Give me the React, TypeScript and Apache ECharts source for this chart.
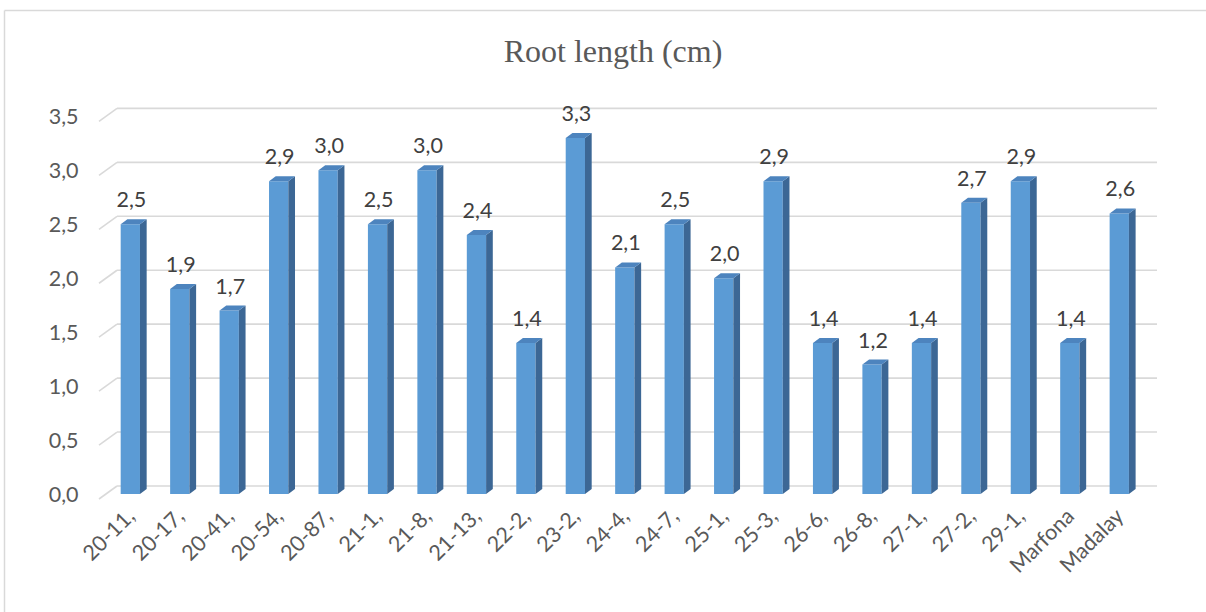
import React, { useEffect, useRef } from "react";
import * as echarts from "echarts";

const categories = ["20-11,", "20-17,", "20-41,", "20-54,", "20-87,", "21-1,", "21-8,", "21-13,", "22-2,", "23-2,", "24-4,", "24-7,", "25-1,", "25-3,", "26-6,", "26-8,", "27-1,", "27-2,", "29-1,", "Marfona", "Madalay"];
const rootLength = [2.5, 1.9, 1.7, 2.9, 3.0, 2.5, 3.0, 2.4, 1.4, 3.3, 2.1, 2.5, 2.0, 2.9, 1.4, 1.2, 1.4, 2.7, 2.9, 1.4, 2.6];
const yTicks = [0, 0.5, 1.0, 1.5, 2.0, 2.5, 3.0, 3.5];
const titleText = "Root length (cm)";

const fmt = (v: number) => v.toFixed(1).replace(".", ",");
const FONT = "Lato, 'Open Sans', sans-serif";

export default function App() {
  const ref = useRef<HTMLDivElement>(null);
  useEffect(() => {
    if (!ref.current) return;
    const chart = echarts.init(ref.current, null, { renderer: "svg" });
    const DX = 6.7;
    const DY = 5;
    chart.setOption({
      animation: false,
      backgroundColor: "#ffffff",
      title: {
        text: titleText,
        left: 608,
        textAlign: "center",
        top: 30,
        textStyle: { fontFamily: "'Liberation Serif', 'Times New Roman', serif", fontSize: 32, fontWeight: "normal", color: "#595959" },
      },
      graphic: [
        { type: "line", shape: { x1: 4.5, y1: 10.5, x2: 1206, y2: 10.5 }, style: { stroke: "#d9d9d9", lineWidth: 1.5 } },
        { type: "line", shape: { x1: 4.5, y1: 10.5, x2: 4.5, y2: 612 }, style: { stroke: "#d9d9d9", lineWidth: 1.5 } },
      ],
      grid: { left: 105.6, right: 62, top: 116.4, height: 377.6 },
      xAxis: {
        type: "category",
        data: categories,
        axisLine: { show: false },
        axisTick: { show: false },
        axisLabel: { rotate: 45, interval: 0, margin: 18, fontSize: 21.5, fontFamily: FONT, color: "#595959" },
      },
      yAxis: {
        type: "value",
        min: 0,
        max: 3.5,
        interval: 0.5,
        splitLine: { show: false },
        axisLine: { show: false },
        axisTick: { show: false },
        axisLabel: { margin: 27, fontSize: 21.5, fontFamily: FONT, color: "#595959", formatter: (v: number) => fmt(v) },
      },
      series: [
        {
          type: "custom",
          z: 1,
          silent: true,
          data: yTicks.map((v) => [0, v]),
          renderItem: (params: any, api: any) => {
            const v = api.value(1);
            const y = api.coord([0, v])[1];
            const cs = params.coordSys;
            const left = cs.x;
            const right = cs.x + cs.width;
            const style = { stroke: "#d9d9d9", lineWidth: 1.6 };
            return {
              type: "group",
              children: [
                { type: "line", shape: { x1: left - 6.6, y1: y + 5, x2: left + 11.4, y2: y - 8 }, style },
                { type: "line", shape: { x1: left + 11.4, y1: y - 8, x2: right + 13, y2: y - 8 }, style },
              ],
            };
          },
        },
        {
          type: "custom",
          z: 2,
          data: rootLength.map((v, i) => [i, v]),
          renderItem: (params: any, api: any) => {
            const i = api.value(0);
            const v = api.value(1);
            const top = api.coord([i, v]);
            const base = api.coord([i, 0]);
            const bw = api.size([1, 0])[0] * 0.39;
            const x0 = top[0] - bw / 2;
            const x1 = top[0] + bw / 2;
            const yt = top[1];
            const yb = base[1];
            return {
              type: "group",
              children: [
                { type: "rect", shape: { x: x0, y: yt, width: bw, height: yb - yt }, style: { fill: "#5b9bd5" } },
                { type: "polygon", shape: { points: [[x1, yt], [x1 + DX, yt - DY], [x1 + DX, yb - DY], [x1, yb]] }, style: { fill: "#3c6795" } },
                { type: "polygon", shape: { points: [[x0, yt], [x0 + DX, yt - DY], [x1 + DX, yt - DY], [x1, yt]] }, style: { fill: "#4d84be" } },
                {
                  type: "text",
                  style: {
                    text: fmt(v),
                    x: top[0] + 1,
                    y: yt - 25,
                    textAlign: "center",
                    textVerticalAlign: "middle",
                    fill: "#404040",
                    font: `21.5px ${FONT}`,
                  },
                },
              ],
            };
          },
        },
      ],
    });
    return () => chart.dispose();
  }, []);
  return <div ref={ref} style={{ position: "absolute", left: 0, top: 0, width: 1206, height: 612 }} />;
}
